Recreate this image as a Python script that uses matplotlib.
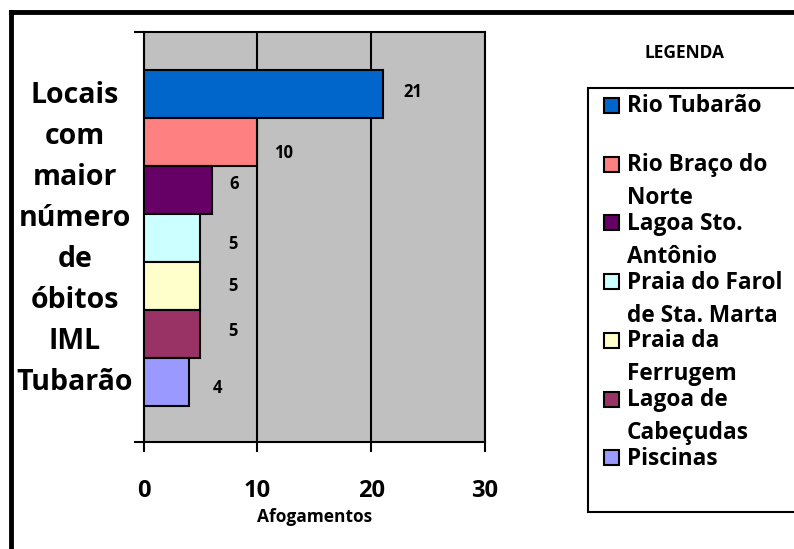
import matplotlib
matplotlib.use("Agg")
import matplotlib.pyplot as plt
from matplotlib.patches import Rectangle
from matplotlib.lines import Line2D

locais = ["Rio Tubarão", "Rio Braço do\nNorte", "Lagoa Sto.\nAntônio",
          "Praia do Farol\nde Sta. Marta", "Praia da\nFerrugem",
          "Lagoa de\nCabeçudas", "Piscinas"]
afogamentos = [21, 10, 6, 5, 5, 5, 4]
cores = ["#0066CC", "#FF8080", "#660066", "#CCFFFF", "#FFFFCC", "#993366", "#9999FF"]
xticks = [0, 10, 20, 30]

# nudges for the value labels (pixels: right, down)
label_nudge = [(30, -2), (26, 11), (22, -6), (33, 6), (33, 0), (33, -3), (28, 6)]

W, H = 794, 549
plt.rcParams["font.family"] = ["Open Sans", "DejaVu Sans"]
plt.rcParams["font.weight"] = "bold"

fig = plt.figure(figsize=(W / 100, H / 100), dpi=100)


def fx(x):
    return x / W


def fy(y):
    return 1 - y / H


ax = fig.add_axes([fx(143.5), fy(441.7), (485 - 143.5) / W, (441.7 - 32) / H])
ax.set_facecolor("#C0C0C0")

pos = list(range(len(afogamentos)))
ax.barh(pos, afogamentos, height=1.0, color=cores, edgecolor="black", linewidth=1.5, zorder=3)

ax.set_xlim(0, 30)
ax.set_ylim(7.244, -1.29)
ax.set_xticks(xticks)
ax.set_xticklabels([str(t) for t in xticks], fontsize=17, fontweight="bold")
ax.tick_params(axis="x", direction="out", length=7.5, width=1.5, pad=19)
ax.set_yticks(ax.get_ylim())
ax.set_yticklabels([])
ax.tick_params(axis="y", direction="out", length=7.5, width=1.5)
ax.xaxis.grid(True, color="black", linewidth=1.5, zorder=1)
ax.set_axisbelow(True)
for s in ax.spines.values():
    s.set_linewidth(1.5)
    s.set_color("black")

for i, v in enumerate(afogamentos):
    dx, dy = label_nudge[i]
    ax.annotate(str(v), (v, i), xytext=(dx * 0.72, -dy * 0.72), textcoords="offset points",
                ha="center", va="center", fontsize=12, fontweight="bold", zorder=4)

ax.set_xlabel("Afogamentos", fontsize=12.5, fontweight="bold", va="center")
ax.xaxis.set_label_coords(0.5, (441.7 - 517) / (441.7 - 32))
ax.set_ylabel("Locais\ncom\nmaior\nnúmero\nde\nóbitos\nIML\nTubarão", rotation=0,
              fontsize=20.5, fontweight="bold", linespacing=1.54, ha="center", va="center")
ax.yaxis.set_label_coords((75 - 143.5) / (485 - 143.5), 1 - (239 - 32) / (441.7 - 32))

# legend drawn by hand, Excel style
fig.text(fx(685), fy(53), "LEGENDA", ha="center", va="center", fontsize=12.5, fontweight="bold")
fig.add_artist(Rectangle((fx(587.7), fy(511.7)), fx(600), (511.7 - 87.7) / H,
                         transform=fig.transFigure, facecolor="white", edgecolor="black",
                         linewidth=1.5))
for i, (nome, cor) in enumerate(zip(locais, cores)):
    yc = 105.5 + i * 58.7
    fig.add_artist(Rectangle((fx(604), fy(yc + 7.5)), 15 / W, 15 / H, transform=fig.transFigure,
                             facecolor=cor, edgecolor="black", linewidth=1.5))
    for j, linha in enumerate(nome.split("\n")):
        fig.text(fx(627), fy(yc + 1 + j * 33), linha, ha="left", va="center",
                 fontsize=16.3, fontweight="bold")

# outer frame
fig.add_artist(Line2D([fx(10.5), fx(10.5)], [fy(600), fy(12)], transform=fig.transFigure,
                      color="black", linewidth=3.5, solid_capstyle="projecting"))
fig.add_artist(Line2D([fx(10.5), fx(900)], [fy(12), fy(12)], transform=fig.transFigure,
                      color="black", linewidth=3.5, solid_capstyle="projecting"))

fig.savefig("out.png", dpi=100)
